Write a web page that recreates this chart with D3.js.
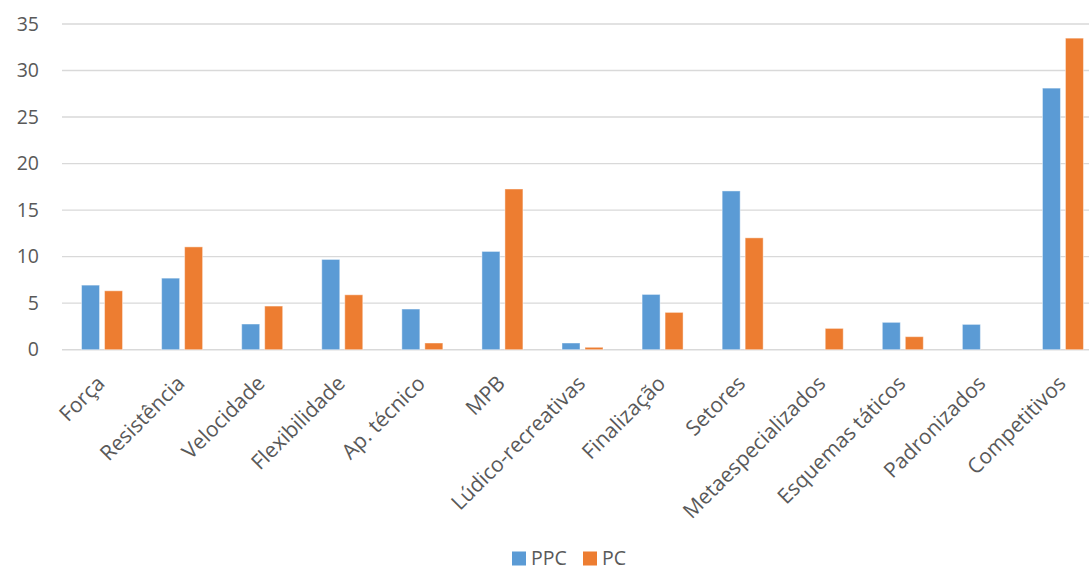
<!DOCTYPE html>
<html>
<head>
<meta charset="utf-8">
<script src="https://cdn.jsdelivr.net/npm/d3@7"></script>
<style>
  html, body { margin: 0; padding: 0; background: #fff; }
  svg { display: block; }
  text { font-family: "Open Sans", sans-serif; fill: #595959; }
</style>
</head>
<body>
<svg id="chart" width="1089" height="570"></svg>
<script>
const categories = ["Força", "Resistência", "Velocidade", "Flexibilidade", "Ap. técnico", "MPB",
  "Lúdico-recreativas", "Finalização", "Setores", "Metaespecializados", "Esquemas táticos",
  "Padronizados", "Competitivos"];
const seriesNames = ["PPC", "PC"];
const ppcValues = [6.94, 7.69, 2.76, 9.70, 4.37, 10.56, 0.72, 5.94, 17.06, 0, 2.94, 2.72, 28.11];
const pcValues  = [6.33, 11.05, 4.69, 5.90, 0.72, 17.27, 0.26, 4.01, 12.02, 2.29, 1.40, 0, 33.48];
const yTicks = [0, 5, 10, 15, 20, 25, 30, 35];
const colors = ["#5B9BD5", "#ED7D31"];

const svg = d3.select("#chart");
const plot = { left: 62, right: 1103, top: 24, bottom: 349.7 };

const x0 = d3.scaleBand().domain(categories).range([plot.left, plot.right]).padding(0);
const x1 = d3.scaleBand().domain(seriesNames)
  .range([x0.bandwidth() / 2 - 20.5, x0.bandwidth() / 2 + 20.5]).paddingInner(0.217).paddingOuter(0);
const y = d3.scaleLinear().domain([0, 35]).range([plot.bottom, plot.top]);

// gridlines
svg.append("g").selectAll("line").data(yTicks).join("line")
  .attr("x1", plot.left).attr("x2", plot.right)
  .attr("y1", d => y(d)).attr("y2", d => y(d))
  .attr("stroke", "#D9D9D9").attr("stroke-width", 1.4);

// y axis labels
const yAxis = d3.axisLeft(y).tickValues(yTicks).tickSize(0).tickPadding(0);
const yg = svg.append("g").attr("transform", "translate(39,0)").call(yAxis);
yg.select(".domain").remove();
yg.selectAll("text").attr("font-size", "19.5px").attr("fill", "#595959")
  .attr("font-family", "'Open Sans', sans-serif");

// bars
const data = categories.map((c, i) => ({ cat: c, vals: [ppcValues[i], pcValues[i]] }));
const groups = svg.append("g").selectAll("g").data(data).join("g")
  .attr("transform", d => `translate(${x0(d.cat)},0)`);
groups.selectAll("rect").data(d => d.vals.map((v, k) => ({ s: seriesNames[k], v, k })))
  .join("rect")
  .filter(d => d.v > 0)
  .attr("x", d => x1(d.s))
  .attr("width", x1.bandwidth())
  .attr("y", d => y(d.v))
  .attr("height", d => y(0) - y(d.v))
  .attr("fill", d => colors[d.k])
  .attr("stroke", "#fff").attr("stroke-opacity", 0.45).attr("stroke-width", 1);

// x axis labels
const xAxis = d3.axisBottom(x0).tickSize(0).tickPadding(0);
const xg = svg.append("g").attr("transform", `translate(0,${plot.bottom})`).call(xAxis);
xg.select(".domain").remove();
xg.selectAll("text")
  .attr("font-size", "21px").attr("fill", "#595959")
  .attr("font-family", "'Open Sans', sans-serif")
  .attr("text-anchor", "end")
  .attr("y", 0).attr("dy", 0)
  .attr("transform", "translate(4,35) rotate(-45)");

// legend
const legend = svg.append("g");
const legendItems = [{ name: "PPC", x: 512 }, { name: "PC", x: 583 }];
legendItems.forEach((it, k) => {
  legend.append("rect").attr("x", it.x).attr("y", 551.5).attr("width", 14).attr("height", 14)
    .attr("fill", colors[k]);
  legend.append("text").attr("x", it.x + 19).attr("y", 565).attr("font-size", "19.5px")
    .attr("fill", "#595959").text(it.name);
});
</script>
</body>
</html>
